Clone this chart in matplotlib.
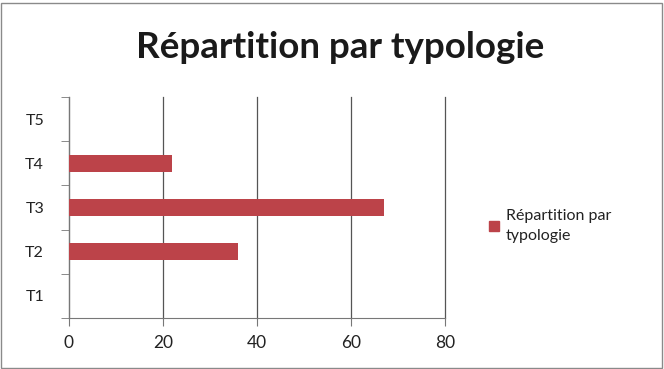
import matplotlib
matplotlib.use("Agg")
import matplotlib.pyplot as plt
from matplotlib.patches import Rectangle
from matplotlib.lines import Line2D
import numpy as np

plt.rcParams['font.family'] = ['Lato', 'DejaVu Sans']

categories = ["T1", "T2", "T3", "T4", "T5"]
values = [0, 36, 67, 22, 0]
xticks = [0, 20, 40, 60, 80]
title = "Répartition par typologie"
series_name = "Répartition par\ntypologie"
bar_color = "#BC4349"

W, H = 664, 369
fig = plt.figure(figsize=(W / 100, H / 100), dpi=100)
fig.patch.set_facecolor("white")

# outer border
fig.add_artist(Rectangle((1 / W, 1 / H), 1 - 3 / W, 1 - 4 / H, transform=fig.transFigure,
                         fill=False, edgecolor="#8a8a8a", linewidth=1.0))

ax = fig.add_axes([69 / W, 1 - 318 / H, (445 - 69) / W, (318 - 97) / H])
y = np.arange(len(categories))
ax.barh(y, values, height=0.38, color=bar_color, zorder=3, label=series_name)

ax.set_xlim(0, 80)
ax.set_ylim(-0.5, len(categories) - 0.5)
ax.set_xticks(xticks)
ax.set_xticklabels([str(v) for v in xticks], fontsize=12.5, color="#222222")
ax.set_yticks(y)
ax.set_yticklabels(categories, fontsize=11.5, color="#222222")
ax.set_yticks(np.arange(-0.5, len(categories), 1.0), minor=True)
ax.tick_params(axis="y", which="major", length=0, pad=18)
ax.tick_params(axis="y", which="minor", length=6, direction="out", color="#777777")
ax.tick_params(axis="x", which="major", length=6, direction="out", color="#777777", pad=6)

ax.grid(axis="x", color="#555555", linewidth=0.9, zorder=0)
for gl in ax.get_xgridlines():
    gl.set_clip_on(False)
for s in ["top", "right"]:
    ax.spines[s].set_visible(False)
ax.spines["left"].set_color("#777777")
ax.spines["bottom"].set_color("#777777")

fig.text(340 / W, 1 - 47 / H, title, ha="center", va="center", fontsize=26.5,
         fontweight="bold", color="#1a1a1a")

handle = Line2D([], [], marker="s", linestyle="none", markersize=7,
                markerfacecolor=bar_color, markeredgecolor=bar_color)
leg = fig.legend([handle], [series_name], loc="center left",
                 bbox_to_anchor=(472 / W, 1 - 226 / H), frameon=False,
                 fontsize=11.5, handletextpad=0.2, handlelength=1.0, labelcolor="#222222")
for t in leg.get_texts():
    t.set_linespacing(1.6)

fig.savefig("out.png", dpi=100)
